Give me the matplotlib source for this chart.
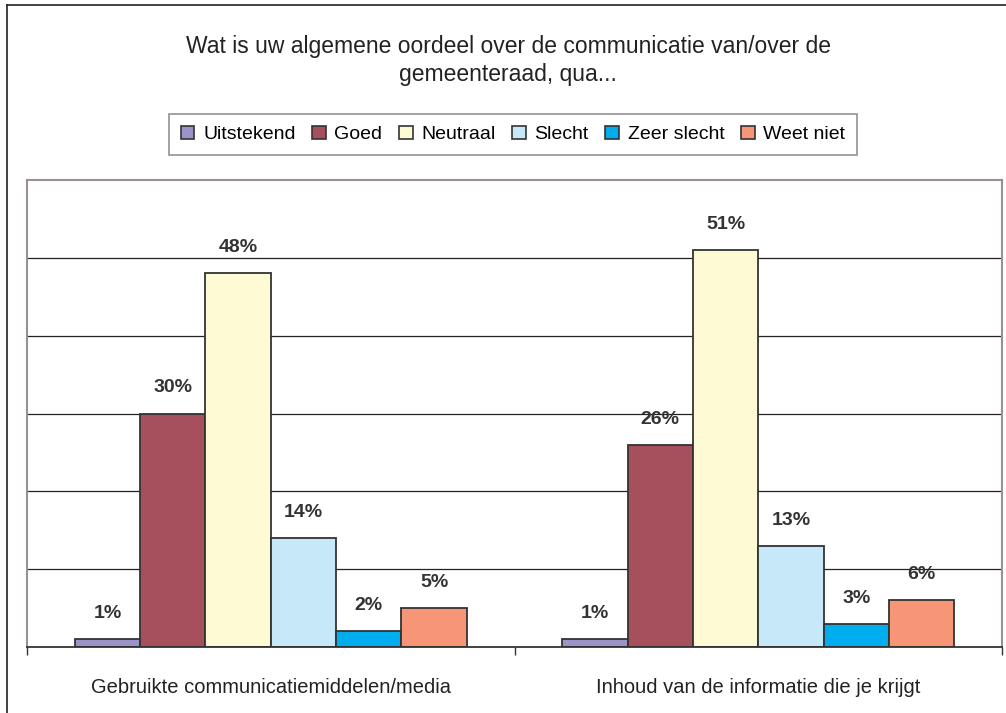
import matplotlib.pyplot as plt
from matplotlib.lines import Line2D
from matplotlib.patches import Patch
import numpy as np

plt.rcParams['font.family'] = ['Liberation Sans', 'DejaVu Sans']

categories = ['Gebruikte communicatiemiddelen/media', 'Inhoud van de informatie die je krijgt']
series = ['Uitstekend', 'Goed', 'Neutraal', 'Slecht', 'Zeer slecht', 'Weet niet']
values = {
    'Uitstekend': [1, 1],
    'Goed': [30, 26],
    'Neutraal': [48, 51],
    'Slecht': [14, 13],
    'Zeer slecht': [2, 3],
    'Weet niet': [5, 6],
}
colors = ['#9b94c9', '#a5505c', '#fefad4', '#c6e8f8', '#00aeef', '#f79677']

fig = plt.figure(figsize=(10.06, 7.13), dpi=100)
W, H = 1006, 713

# outer chart frame (left and top edges visible)
fig.add_artist(Line2D([7 / W, 7 / W], [0, 1 - 5 / H], color='#222222', lw=1.2))
fig.add_artist(Line2D([7 / W, 1], [1 - 5 / H, 1 - 5 / H], color='#222222', lw=1.2))

ax = fig.add_axes([27 / W, 66 / H, 975 / W, 467 / H])
x = np.arange(len(categories))
w = 0.134
for i, s in enumerate(series):
    pos = x + (i - 2.5) * w
    bars = ax.bar(pos, values[s], width=w, color=colors[i], edgecolor='#333333', linewidth=1.3, zorder=3)
    for b, v in zip(bars, values[s]):
        ax.text(b.get_x() + b.get_width() / 2, v + 2.2, f'{v}%', ha='center', va='bottom',
                fontsize=14, fontweight='bold', color='#333333')

ax.set_xlim(-0.5, 1.5)
ax.set_ylim(0, 60)
ax.set_yticks(np.arange(10, 60, 10))
ax.yaxis.grid(True, color='#222222', lw=0.9, zorder=0)
ax.tick_params(axis='y', left=False, labelleft=False)
ax.set_xticks(x)
ax.set_xticklabels(categories, fontsize=14.5, color='#222222')
ax.tick_params(axis='x', length=0, pad=22)
ax.set_xticks([-0.5, 0.5, 1.5], minor=True)
ax.tick_params(axis='x', which='minor', length=6, color='#333333', width=1)
for side in ['top', 'left', 'right']:
    ax.spines[side].set_color('#9a9090')
    ax.spines[side].set_linewidth(1.5)
ax.spines['bottom'].set_color('#333333')
ax.spines['bottom'].set_linewidth(1.3)
ax.spines['bottom'].set_zorder(4)

fig.text(0.505, 1 - 46 / H, 'Wat is uw algemene oordeel over de communicatie van/over de',
         ha='center', va='center', fontsize=16.5, color='#222222')
fig.text(0.505, 1 - 75 / H, 'gemeenteraad, qua...', ha='center', va='center', fontsize=16.5, color='#222222')

handles = [Patch(facecolor=c, edgecolor='#333333', linewidth=1.2) for c in colors]
leg = fig.legend(handles, series, loc='center', bbox_to_anchor=(513 / W, 1 - 134.5 / H), ncol=6,
                 fontsize=14, frameon=True, fancybox=False, edgecolor='#777777',
                 handlelength=0.7, handleheight=0.7, handletextpad=0.45, columnspacing=0.85,
                 borderpad=0.6)
leg.get_frame().set_linewidth(1.2)

fig.savefig('out.png', dpi=100)
